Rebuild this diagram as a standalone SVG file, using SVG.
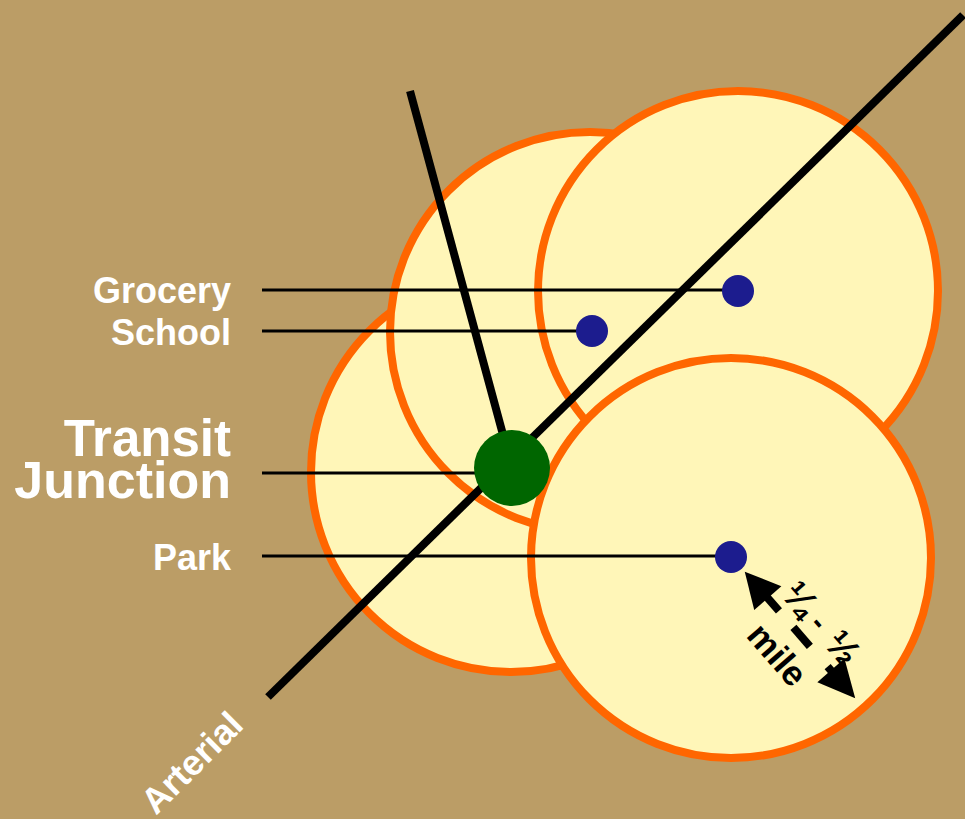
<svg xmlns="http://www.w3.org/2000/svg" width="965" height="819" viewBox="0 0 965 819">
<style>
.zone{fill:#FFF6B8;stroke:#FF6600;stroke-width:8}
.road{stroke:#000;stroke-width:8;fill:none}
.lead{stroke:#000;stroke-width:3}
.poi{fill:#1C1C8E}
.lbl{font-family:"Liberation Sans",Arial,sans-serif;font-weight:bold;fill:#fff;text-anchor:end}
.ann{font-family:"Liberation Sans",Arial,sans-serif;font-weight:bold;fill:#000;text-anchor:middle}
</style>
<rect width="965" height="819" fill="#BB9D66"/>
<g id="zones">
<circle id="zone-lower-left" class="zone" cx="511" cy="472" r="200"/>
<circle id="zone-middle" class="zone" cx="590" cy="332" r="200"/>
<circle id="zone-upper-right" class="zone" cx="738" cy="291" r="200"/>
<circle id="zone-lower-right" class="zone" cx="731" cy="558" r="200"/>
</g>
<g id="connectors">
<line class="road" x1="268" y1="697" x2="963" y2="15"/>
<line class="road" x1="410" y1="91" x2="512" y2="468"/>
<line class="lead" x1="262" y1="290" x2="738" y2="290"/>
<line class="lead" x1="262" y1="331" x2="592" y2="331"/>
<line class="lead" x1="262" y1="473" x2="490" y2="473"/>
<line class="lead" x1="262" y1="556" x2="731" y2="556"/>
</g>
<g id="transit-junction">
<circle cx="512" cy="468" r="38" fill="#006600"/>
<text class="lbl" x="231" y="456" font-size="51">Transit</text>
<text class="lbl" x="231" y="498" font-size="52">Junction</text>
</g>
<g id="grocery">
<circle class="poi" cx="738" cy="291" r="16"/>
<text class="lbl" x="231" y="303" font-size="36">Grocery</text>
</g>
<g id="school">
<circle class="poi" cx="592" cy="331" r="16"/>
<text class="lbl" x="231" y="345" font-size="36">School</text>
</g>
<g id="park">
<circle class="poi" cx="731" cy="557" r="16"/>
<text class="lbl" x="231" y="570" font-size="36">Park</text>
</g>
<g id="arterial-label">
<text x="156" y="816" transform="rotate(-45 156 816)" font-family="Liberation Sans, Arial, sans-serif" font-weight="bold" font-size="36" fill="#fff">Arterial</text>
</g>
<g id="distance" transform="translate(800 635) rotate(48.9)">
<path d="M-84 0 L-49 -18 L-49 18 Z" fill="#000"/>
<line x1="-52" y1="0" x2="-32" y2="0" stroke="#000" stroke-width="8"/>
<line x1="-10" y1="0" x2="15" y2="0" stroke="#000" stroke-width="8"/>
<line x1="42" y1="0" x2="50" y2="0" stroke="#000" stroke-width="8"/>
<path d="M84 0 L47 -18 L47 18 Z" fill="#000"/>
<text class="ann" x="-27" y="-11" font-size="38">¼</text>
<text class="ann" x="3" y="-13" font-size="30">-</text>
<text class="ann" x="38" y="-11" font-size="38">½</text>
<text class="ann" x="0" y="42" font-size="35">mile</text>
</g>
</svg>
